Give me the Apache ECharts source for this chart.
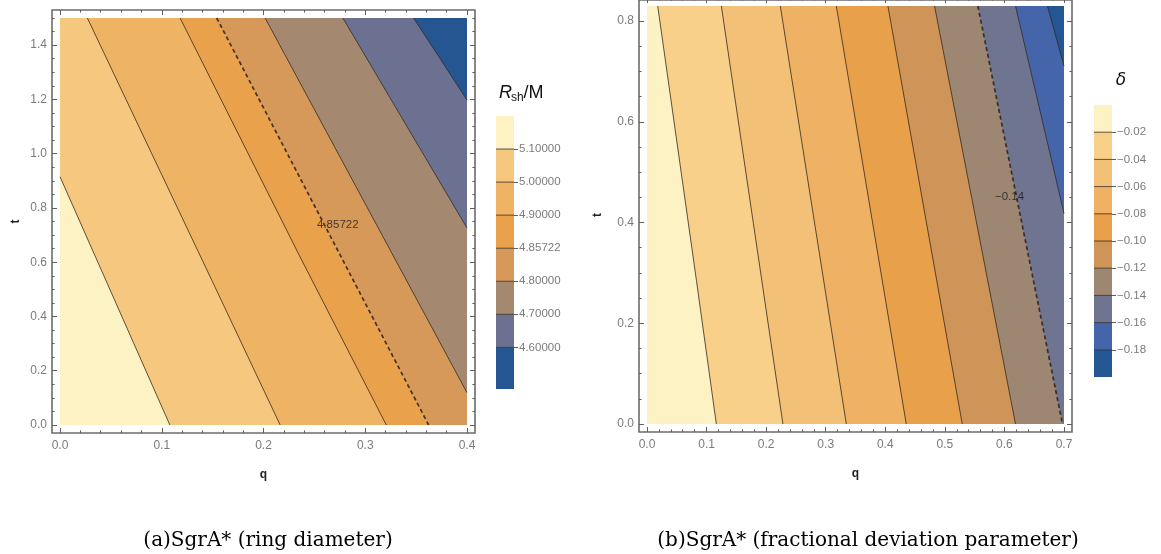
<!DOCTYPE html>
<html><head><meta charset="utf-8">
<script src="https://cdn.jsdelivr.net/npm/echarts@6/dist/echarts.min.js"></script>
<style>html,body{margin:0;padding:0;background:#fff}#c{width:1161px;height:554px}</style>
</head><body><div id="c"></div>
<script>
// ===== DATA: panel (a) ring diameter R_sh/M =====
const aLevels = ['5.10000','5.00000','4.90000','4.85722','4.80000','4.70000','4.60000'];
const aBandColors = ['#fdf2c4','#f6c87f','#efb364','#e9a24b','#d7995a','#a4886f','#6c7191','#265691'];
const aContours = [
  [[0,0.915],[0.0405,0.572],[0.108,0]],
  [[0.0269,1.5],[0.149,0.535],[0.2164,0]],
  [[0.118,1.5],[0.236,0.619],[0.3207,0]],
  [[0.154,1.5],[0.3623,0]],
  [[0.2016,1.5],[0.4,0.119]],
  [[0.278,1.5],[0.4,0.726]],
  [[0.3475,1.5],[0.4,1.198]]
];
const aDashedIndex = 3;
const aContourLabel = ['4.85722', 0.273, 0.737];
const aQRange = [0, 0.4], aTRange = [0, 1.5];
const aQTicks = [0, 0.1, 0.2, 0.3, 0.4];
const aTTicks = [0, 0.2, 0.4, 0.6, 0.8, 1.0, 1.2, 1.4];
const aQMinorStep = 0.02, aTMinorStep = 0.05;

// ===== DATA: panel (b) fractional deviation delta =====
const bLevels = ['\u22120.02','\u22120.04','\u22120.06','\u22120.08','\u22120.10','\u22120.12','\u22120.14','\u22120.16','\u22120.18'];
const bBandColors = ['#fdf2c4','#f8d08a','#f3c077','#efb264','#e8a14a','#cf9458','#9d8672','#6f7590','#4565aa','#245693'];
const bContours = [
  [[0.018,0.83],[0.0829,0.2857],[0.1164,0]],
  [[0.1248,0.83],[0.2282,0]],
  [[0.2238,0.83],[0.3346,0]],
  [[0.3178,0.83],[0.4352,0]],
  [[0.4044,0.83],[0.5292,0]],
  [[0.4827,0.83],[0.6186,0]],
  [[0.5554,0.83],[0.6975,0]],
  [[0.6186,0.83],[0.7,0.418]],
  [[0.6723,0.83],[0.7,0.711]]
];
const bDashedIndex = 6;
const bContourLabel = ['\u22120.14', 0.6086, 0.451];
const bQRange = [0, 0.7], bTRange = [0, 0.83];
const bQTicks = [0, 0.1, 0.2, 0.3, 0.4, 0.5, 0.6, 0.7];
const bTTicks = [0, 0.2, 0.4, 0.6, 0.8];
const bQMinorStep = 0.02, bTMinorStep = 0.05;

const captions = ['(a)SgrA* (ring diameter)', '(b)SgrA* (fractional deviation parameter)'];

// ===== LAYOUT =====
const PAD = 8;
const gA = {left: 60, top: 18, width: 407, height: 407};
const gB = {left: 647, top: 6, width: 417, height: 418};
const cbA = {left: 496, top: 116, width: 18, height: 273};
const cbB = {left: 1094, top: 105, width: 18, height: 272};
const cbAExtraBottom = 0.26; // bottom band of legend (a) is taller
const LINE_COLOR = 'rgba(55,42,30,0.8)';
const TICK_COLOR = '#5f5f5f';
const LABEL_COLOR = '#7b7b7b';
const SANS = 'Liberation Sans, Arial, sans-serif';

function steps(range, step) {
  const out = [];
  const n = Math.floor((range[1] - range[0]) / step + 1e-6);
  for (let k = 0; k <= n; k++) out.push(+(range[0] + k * step).toFixed(6));
  return out;
}

function clipRect(poly, x0, y0, x1, y1) {
  const edges = [
    [p => p[0] >= x0, (a, b) => { const t = (x0 - a[0]) / (b[0] - a[0]); return [x0, a[1] + t * (b[1] - a[1])]; }],
    [p => p[0] <= x1, (a, b) => { const t = (x1 - a[0]) / (b[0] - a[0]); return [x1, a[1] + t * (b[1] - a[1])]; }],
    [p => p[1] >= y0, (a, b) => { const t = (y0 - a[1]) / (b[1] - a[1]); return [a[0] + t * (b[0] - a[0]), y0]; }],
    [p => p[1] <= y1, (a, b) => { const t = (y1 - a[1]) / (b[1] - a[1]); return [a[0] + t * (b[0] - a[0]), y1]; }]
  ];
  let out = poly;
  for (const [inside, inter] of edges) {
    const inp = out; out = [];
    for (let k = 0; k < inp.length; k++) {
      const cur = inp[k], prev = inp[(k + inp.length - 1) % inp.length];
      const ci = inside(cur), pi = inside(prev);
      if (ci) { if (!pi) out.push(inter(prev, cur)); out.push(cur); }
      else if (pi) out.push(inter(prev, cur));
    }
    if (!out.length) break;
  }
  return out;
}

function fillRenderer(contours, colors) {
  return function (params, api) {
    const i = api.value(0);
    const cs = params.coordSys;
    const x0 = cs.x, y0 = cs.y, x1 = cs.x + cs.width, y1 = cs.y + cs.height;
    let poly;
    if (i >= contours.length) {
      poly = [[x0, y0], [x1, y0], [x1, y1], [x0, y1]];
    } else {
      const pts = contours[i].map(p => api.coord(p));
      const n = pts.length - 1;
      const ext = (a, b) => { const dx = a[0] - b[0], dy = a[1] - b[1], L = Math.hypot(dx, dy) || 1; return [a[0] + dx / L * 3000, a[1] + dy / L * 3000]; };
      const eTop = ext(pts[0], pts[1]);
      const eBot = ext(pts[n], pts[n - 1]);
      poly = [eTop].concat(pts, [eBot, [eBot[0] - 8000, eBot[1]], [eTop[0] - 8000, eTop[1]]]);
      poly = clipRect(poly, x0, y0, x1, y1);
    }
    return {type: 'polygon', z2: 100 - i, shape: {points: poly}, style: {fill: colors[i], stroke: null}};
  };
}

function legendRenderer(colors, bottomMin) {
  const nb = colors.length;
  return function (params, api) {
    const k = api.value(0);
    const hi = nb - 1 - k;
    const lo = (k === nb - 1) ? bottomMin : hi - 1;
    const p1 = api.coord([0, hi]), p2 = api.coord([1, lo]);
    const children = [{type: 'rect', shape: {x: p1[0], y: p1[1], width: p2[0] - p1[0], height: p2[1] - p1[1]}, style: {fill: colors[k]}}];
    if (k < nb - 1) {
      children.push({type: 'line', shape: {x1: p1[0], y1: p2[1], x2: p2[0], y2: p2[1]}, style: {stroke: LINE_COLOR, lineWidth: 1}, z2: 5});
    }
    return {type: 'group', children};
  };
}

const grids = [], xAxes = [], yAxes = [], series = [];

function addPanel(g, qR, tR, qT, tT, qStep, tStep, contours, colors, dashedIdx, lbl, yNameGap) {
  grids.push({left: g.left - PAD, top: g.top - PAD, width: g.width + 2 * PAD, height: g.height + 2 * PAD,
    show: true, borderColor: '#6c6c6c', borderWidth: 1.6, backgroundColor: '#fff'});
  const fg = grids.length - 1;
  xAxes.push({type: 'value', gridIndex: fg, show: false, min: 0, max: 1});
  yAxes.push({type: 'value', gridIndex: fg, show: false, min: 0, max: 1});
  grids.push({left: g.left, top: g.top, width: g.width, height: g.height, show: false});
  const dg = grids.length - 1;
  const qMinor = steps(qR, qStep), tMinor = steps(tR, tStep);
  const common = {type: 'value', gridIndex: dg, offset: PAD, splitLine: {show: false}, axisLine: {show: false, onZero: false}};
  const tick = (vals, len) => ({show: true, inside: true, length: len, customValues: vals, lineStyle: {color: TICK_COLOR, width: 1}});
  const xMain = xAxes.length;
  xAxes.push(Object.assign({}, common, {position: 'bottom', min: qR[0], max: qR[1], axisTick: tick(qT, 5),
    axisLabel: {show: true, customValues: qT, formatter: v => v.toFixed(1), color: LABEL_COLOR, fontSize: 12, margin: 7, fontFamily: SANS},
    name: 'q', nameLocation: 'middle', nameGap: 36, nameTextStyle: {fontWeight: 'bold', fontSize: 12, color: '#222', fontFamily: SANS}}));
  xAxes.push(Object.assign({}, common, {position: 'bottom', min: qR[0], max: qR[1], axisTick: tick(qMinor, 2.6), axisLabel: {show: false}}));
  xAxes.push(Object.assign({}, common, {position: 'top', min: qR[0], max: qR[1], axisTick: tick(qT, 5), axisLabel: {show: false}}));
  xAxes.push(Object.assign({}, common, {position: 'top', min: qR[0], max: qR[1], axisTick: tick(qMinor, 2.6), axisLabel: {show: false}}));
  const yMain = yAxes.length;
  yAxes.push(Object.assign({}, common, {position: 'left', min: tR[0], max: tR[1], axisTick: tick(tT, 5),
    axisLabel: {show: true, customValues: tT, formatter: v => v.toFixed(1), color: LABEL_COLOR, fontSize: 12, margin: 5, fontFamily: SANS},
    name: 't', nameLocation: 'middle', nameGap: yNameGap, nameRotate: 90, nameTextStyle: {fontWeight: 'bold', fontSize: 12, color: '#222', fontFamily: SANS}}));
  yAxes.push(Object.assign({}, common, {position: 'left', min: tR[0], max: tR[1], axisTick: tick(tMinor, 2.6), axisLabel: {show: false}}));
  yAxes.push(Object.assign({}, common, {position: 'right', min: tR[0], max: tR[1], axisTick: tick(tT, 5), axisLabel: {show: false}}));
  yAxes.push(Object.assign({}, common, {position: 'right', min: tR[0], max: tR[1], axisTick: tick(tMinor, 2.6), axisLabel: {show: false}}));

  const bandData = [];
  for (let i = colors.length - 1; i >= 0; i--) bandData.push([i]);
  series.push({type: 'custom', xAxisIndex: xMain, yAxisIndex: yMain, renderItem: fillRenderer(contours, colors),
    data: bandData, silent: true, animation: false, z: 1});
  contours.forEach((c, i) => {
    const dashed = i === dashedIdx;
    series.push({type: 'line', xAxisIndex: xMain, yAxisIndex: yMain, data: c, showSymbol: false, symbol: 'none',
      silent: true, animation: false, z: 3,
      lineStyle: dashed ? {color: 'rgba(50,38,28,0.9)', width: 1.7, type: [4, 3]} : {color: LINE_COLOR, width: 1}});
  });
  series.push({type: 'scatter', xAxisIndex: xMain, yAxisIndex: yMain, data: [[lbl[1], lbl[2]]], symbolSize: 0,
    silent: true, animation: false, z: 4,
    label: {show: true, position: 'inside', formatter: lbl[0], color: '#1a1a1a', fontSize: 11.5, fontFamily: SANS}});
}

function addLegend(cb, colors, levels, bottomMin) {
  grids.push({left: cb.left, top: cb.top, width: cb.width, height: cb.height, show: false});
  const lg = grids.length - 1;
  const nb = colors.length;
  const bounds = [];
  for (let j = 0; j < levels.length; j++) bounds.push(levels.length - 1 - j);
  const xi = xAxes.length;
  xAxes.push({type: 'value', gridIndex: lg, show: false, min: 0, max: 1});
  const yi = yAxes.length;
  yAxes.push({type: 'value', gridIndex: lg, position: 'right', min: bottomMin, max: nb - 1,
    axisLine: {show: false, onZero: false}, splitLine: {show: false},
    axisTick: {show: true, inside: false, length: 4, customValues: bounds, lineStyle: {color: TICK_COLOR, width: 1}},
    axisLabel: {show: true, customValues: bounds, margin: 5, color: LABEL_COLOR, fontSize: 11.5, fontFamily: SANS,
      formatter: v => levels[levels.length - 1 - Math.round(v)]}});
  const d = [];
  for (let k = 0; k < nb; k++) d.push([k]);
  series.push({type: 'custom', xAxisIndex: xi, yAxisIndex: yi, renderItem: legendRenderer(colors, bottomMin),
    data: d, silent: true, animation: false, z: 2});
}

addPanel(gA, aQRange, aTRange, aQTicks, aTTicks, aQMinorStep, aTMinorStep, aContours, aBandColors, aDashedIndex, aContourLabel, 30);
addPanel(gB, bQRange, bTRange, bQTicks, bTTicks, bQMinorStep, bTMinorStep, bContours, bBandColors, bDashedIndex, bContourLabel, 35);
addLegend(cbA, aBandColors, aLevels, -1 - cbAExtraBottom);
addLegend(cbB, bBandColors, bLevels, -1);

const serif = 'DejaVu Serif, Liberation Serif, serif';
const graphic = [
  {type: 'text', x: 268, y: 541, style: {text: captions[0], font: '20px ' + serif, fill: '#000', align: 'center', verticalAlign: 'middle'}},
  {type: 'text', x: 868, y: 541, style: {text: captions[1], font: '20px ' + serif, fill: '#000', align: 'center', verticalAlign: 'middle'}},
  {type: 'text', x: 499, y: 93, style: {text: 'R', font: 'italic 18px ' + SANS, fill: '#111', align: 'left', verticalAlign: 'middle'}},
  {type: 'text', x: 511, y: 98, style: {text: 'sh', font: '12px ' + SANS, fill: '#111', align: 'left', verticalAlign: 'middle'}},
  {type: 'text', x: 523.5, y: 93, style: {text: '/M', font: '18px ' + SANS, fill: '#111', align: 'left', verticalAlign: 'middle'}},
  {type: 'text', x: 1121, y: 81, style: {text: '\u03b4', font: 'italic 17px DejaVu Sans, sans-serif', fill: '#111', align: 'center', verticalAlign: 'middle'}}
];

const chart = echarts.init(document.getElementById('c'), null, {renderer: 'canvas'});
chart.setOption({animation: false, backgroundColor: '#fff', grid: grids, xAxis: xAxes, yAxis: yAxes, series, graphic});
</script></body></html>
